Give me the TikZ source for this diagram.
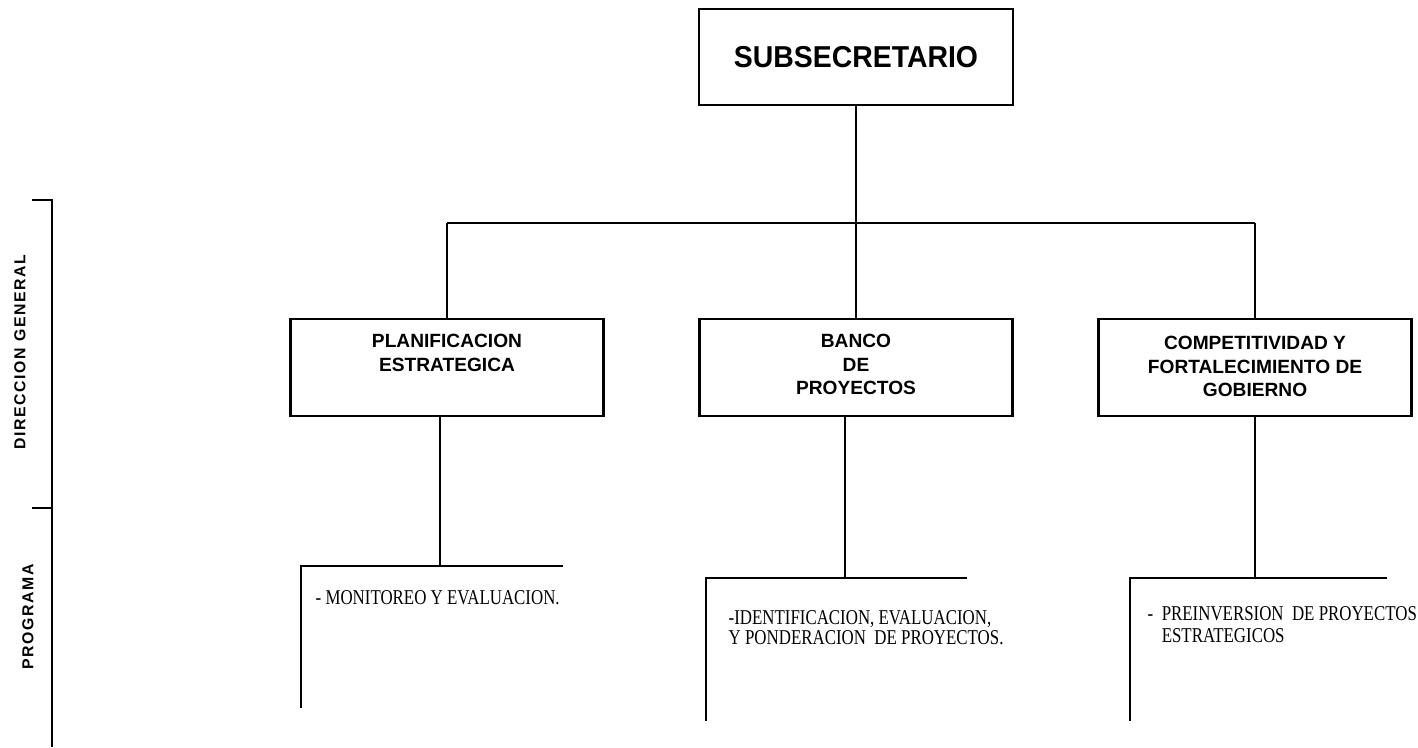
\documentclass[tikz,border=0pt]{standalone}
\usepackage{fontspec}
\setmainfont{Liberation Serif}
\setsansfont{Liberation Sans}
\newfontfamily\sidefont{Liberation Sans}[LetterSpace=10]
\newfontfamily\headfont{Liberation Sans}[FakeStretch=0.94]
\newfontfamily\progfont{Liberation Serif}[FakeStretch=0.8]
\usetikzlibrary{calc}

\tikzset{
  orgline/.style={line width=0.02cm},
  scaleline/.style={line width=0.028cm},
  unitbox/.style={draw, line width=0.025cm, minimum width=3.13cm, minimum height=0.97cm, inner sep=0pt},
  unittext/.style={font=\sffamily\bfseries\fontsize{5.45}{6.7}\selectfont, align=center, anchor=north, inner sep=0pt},
  progtext/.style={font=\progfont\fontsize{6.0}{5.5}\selectfont, align=left, anchor=north west, inner sep=0pt},
  sidetext/.style={font=\sidefont\bfseries\fontsize{4.5}{5}\selectfont, rotate=90, inner sep=0pt}
}

\begin{document}
\begin{tikzpicture}
                    \useasboundingbox (0,0) rectangle (14.180000,7.470000);
                    
                    % Drawing box SUBSECRETARIO
                    \node [draw, line width=0.025cm, minimum width=3.14cm, minimum height=0.96cm,
                           font=\headfont\bfseries\fontsize{8.6}{9}\selectfont] (sub) at (8.560000,6.900000) {SUBSECRETARIO};%
                    
                    % Drawing boxes of the units
                    \node [unitbox] (plan) at (4.470000,3.795000) {};%
                    \node [unitbox] (banco) at (8.560000,3.795000) {};%
                    \node [unitbox] (comp) at (12.550000,3.795000) {};%
                    \node [unittext] (plantxt) at ($(plan.north)+(0,-0.160000)$) {PLANIFICACION\\ESTRATEGICA};%
                    \node [unittext] (bancotxt) at ($(banco.north)+(0,-0.160000)$) {BANCO\\DE\\PROYECTOS};%
                    \node [unittext] (comptxt) at ($(comp.north)+(0,-0.180000)$) {COMPETITIVIDAD Y\\FORTALECIMIENTO DE\\GOBIERNO};%
                    
                    % Drawing line from SUBSECRETARIO to the units
                    \coordinate (busl) at (4.470000,5.240000);%
                    \coordinate (busr) at (12.550000,5.240000);%
                    \draw [orgline] (busl) -- (busr);%
                    \draw [orgline] (sub.south) -- (sub.south |- busl);%
                    \draw [orgline] (busl) -- (plan.north);%
                    \draw [orgline] (banco.north |- busl) -- (banco.north);%
                    \draw [orgline] (busr) -- (comp.north);%
                    
                    % Drawing program bracket of PLANIFICACION
                    \coordinate (planp) at (4.400000,1.810000);%
                    \coordinate (planl) at (3.010000,1.810000);%
                    \coordinate (planr) at (5.630000,1.810000);%
                    \coordinate (planb) at (3.010000,0.390000);%
                    \draw [orgline] (planp |- plan.south) -- (planp);%
                    \draw [orgline] (planr) -- (planl) -- (planb);%
                    \node [progtext] (plantask) at (3.150000,1.570000) {- MONITOREO Y EVALUACION.};%
                    
                    % Drawing program bracket of BANCO
                    \coordinate (bancop) at (8.450000,1.690000);%
                    \coordinate (bancol) at (7.060000,1.690000);%
                    \coordinate (bancor) at (9.670000,1.690000);%
                    \coordinate (bancob) at (7.060000,0.260000);%
                    \draw [orgline] (bancop |- banco.south) -- (bancop);%
                    \draw [orgline] (bancor) -- (bancol) -- (bancob);%
                    \node [progtext] (bancotask) at (7.280000,1.370000) {-IDENTIFICACION, EVALUACION,\\Y PONDERACION\ \ DE PROYECTOS.};%
                    
                    % Drawing program bracket of COMPETITIVIDAD
                    \coordinate (compp) at (12.550000,1.690000);%
                    \coordinate (compl) at (11.300000,1.690000);%
                    \coordinate (compr) at (13.870000,1.690000);%
                    \coordinate (compb) at (11.300000,0.260000);%
                    \draw [orgline] (comp.south) -- (compp);%
                    \draw [orgline] (compr) -- (compl) -- (compb);%
                    \node [progtext] (comptask) at (11.470000,1.410000) {\makebox[4pt][l]{-}PREINVERSION\ \ DE PROYECTOS\\[0.6pt]\hspace*{4pt}ESTRATEGICOS};%
                    
                    % Drawing the level scale on the left
                    \coordinate (scalet) at (0.520000,5.470000);%
                    \coordinate (scalem) at (0.520000,2.390000);%
                    \coordinate (scaleb) at (0.520000,0.000000);%
                    \draw [scaleline] (0.320000,5.470000) -- (scalet) -- (scaleb);%
                    \draw [scaleline] (0.320000,2.390000) -- (scalem);%
                    \node [sidetext] (dirgen) at (0.200000,3.950000) {DIRECCION GENERAL};%
                    \node [sidetext] (progr) at (0.280000,1.300000) {PROGRAMA};%
\end{tikzpicture}
\end{document}
